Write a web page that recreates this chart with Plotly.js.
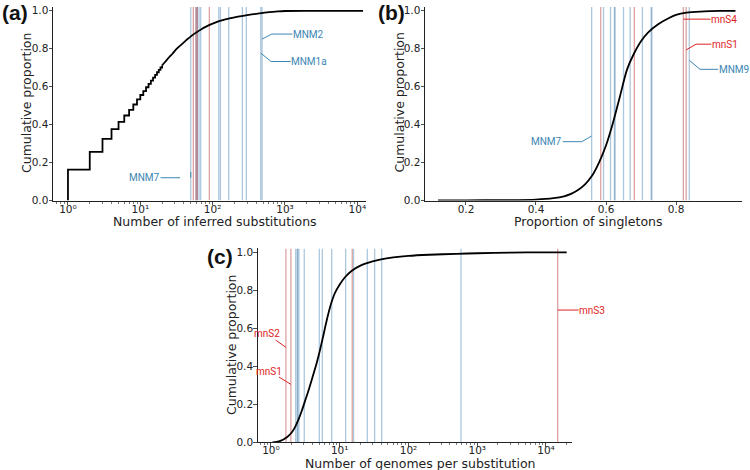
<!DOCTYPE html>
<html><head><meta charset="utf-8">
<script src="https://cdn.plot.ly/plotly-3.0.1.min.js"></script>
<style>body{margin:0;background:#fff}#chart{width:750px;height:470px}</style>
</head><body><div id="chart"></div>
<script>
// ---------- Panel (a): number of inferred substitutions ----------
const subsStepX = [1,1,2,3,4,5,6,7,8,9,10,11,12,13,14,15,16,17,18,19,20];
const subsStepY = [0,0.163,0.256,0.325,0.376,0.414,0.448,0.478,0.506,0.533,0.556,0.577,0.597,0.615,0.632,0.648,0.662,0.676,0.689,0.701,0.712];
const subsTailX = [20,22,25,28,32,36,40,45,50,55,60,70,80,100,120,150,200,250,300,400,500,600,800,1000,2000,12000];
const subsTailY = [0.712,0.73,0.755,0.775,0.80,0.818,0.834,0.851,0.865,0.877,0.887,0.903,0.915,0.932,0.944,0.955,0.965,0.972,0.977,0.984,0.989,0.993,0.997,0.999,1.0,1.0];
const subsBlue = [49.8,58.9,61.4,64.8,68.4,121.5,128,167,258,292,463,482];
const subsRed = [54.1,58.9,61.4,90];
const subsLabels = ['MNM7','MNM2','MNM1a'];
const subsLabelX = [49.8,482,463];
const subsLabelY = [0.150,0.851,0.777];

// ---------- Panel (b): proportion of singletons ----------
const singX = [0.12,0.2,0.3,0.4,0.45,0.48,0.5,0.52,0.54,0.56,0.58,0.6,0.62,0.64,0.66,0.68,0.7,0.72,0.75,0.78,0.8,0.83,0.87,0.9,0.95,0.97];
const singY = [0,0.001,0.002,0.005,0.012,0.022,0.035,0.055,0.085,0.13,0.2,0.29,0.41,0.55,0.69,0.775,0.84,0.885,0.93,0.962,0.978,0.99,0.996,0.998,1.0,1.0];
const singBlue = [0.559,0.593,0.613,0.624,0.626,0.650,0.669,0.704,0.729,0.731,0.838];
const singRed = [0.585,0.681,0.821,0.829];
const singLabels = ['MNM7','mnS4','mnS1','MNM9'];
const singLabelX = [0.559,0.821,0.829,0.838];
const singLabelY = [0.340,0.956,0.794,0.739];

// ---------- Panel (c): number of genomes per substitution ----------
const genX = [1.05,1.2,1.4,1.6,1.8,2.0,2.2,2.5,2.8,3.2,3.6,4.0,4.6,5.2,5.8,6.5,7.5,8.5,10,12,15,20,30,40,60,100,200,500,1000,3000,10000,20000];
const genY = [0,0.002,0.009,0.02,0.034,0.052,0.075,0.118,0.165,0.228,0.285,0.34,0.415,0.49,0.565,0.645,0.73,0.785,0.83,0.87,0.903,0.93,0.952,0.963,0.973,0.981,0.987,0.992,0.995,0.998,1.0,1.0];
const genBlue = [2.29,2.41,2.45,2.55,3.05,5.05,5.58,7.64,12.2,15.9,25.2,32.2,40.8,580];
const genRed = [1.65,1.95,15.2,14800];
const genLabels = ['mnS2','mnS1','mnS3'];
const genLabelX = [1.65,1.95,14800];
const genLabelY = [0.5,0.305,0.696];

// tick labels and titles
const logTickVals = [1,10,100,1000,10000];
const logTickText = ['10\u2070','10\u00b9','10\u00b2','10\u00b3','10\u2074'];
const yTickVals = [0,0.2,0.4,0.6,0.8,1.0];
const yTickText = ['0.0','0.2','0.4','0.6','0.8','1.0'];
const singTickVals = [0.2,0.4,0.6,0.8];
const singTickText = ['0.2','0.4','0.6','0.8'];
const xTitles = ['Number of inferred substitutions','Proportion of singletons','Number of genomes per substitution'];
const yTitle = 'Cumulative proportion';
const panelLetters = ['(a)','(b)','(c)'];

// ---------- styles ----------
const BLUE_LINE = 'rgba(70,130,180,0.45)';
const RED_LINE = 'rgba(185,70,70,0.5)';
const BLUE_TXT = '#3a86b4';
const RED_TXT = '#dd2222';
const YTOP = 1.02;

function vlines(vals, color, xa, ya) {
  const x = [], y = [];
  vals.forEach(v => { x.push(v, v, null); y.push(0, YTOP, null); });
  return {x, y, xaxis: xa, yaxis: ya, mode: 'lines', type: 'scatter', hoverinfo: 'skip',
          line: {color, width: 1.3}};
}
function curve(x, y, xa, ya, shape) {
  return {x, y, xaxis: xa, yaxis: ya, mode: 'lines', type: 'scatter',
          line: {color: '#000', width: 1.8, shape: shape || 'linear', smoothing: 0.8}};
}

const traces = [
  vlines(subsBlue, BLUE_LINE, 'x', 'y'),
  vlines(subsRed, RED_LINE, 'x', 'y'),
  curve(subsStepX, subsStepY, 'x', 'y', 'hv'),
  curve(subsTailX, subsTailY, 'x', 'y', 'spline'),
  vlines(singBlue, BLUE_LINE, 'x2', 'y2'),
  vlines(singRed, RED_LINE, 'x2', 'y2'),
  curve(singX, singY, 'x2', 'y2', 'spline'),
  vlines(genBlue, BLUE_LINE, 'x3', 'y3'),
  vlines(genRed, RED_LINE, 'x3', 'y3'),
  curve(genX, genY, 'x3', 'y3', 'spline')
];

function minorLog(lo, hi) {
  const out = [];
  for (let e = lo; e <= hi; e++) for (let m = 2; m <= 9; m++) out.push(m * Math.pow(10, e));
  return out;
}

const tickFont = {family: 'DejaVu Sans', size: 10.5, color: '#222'};
const titleFont = {family: 'DejaVu Sans', size: 12.5, color: '#222'};

function xLog(domain, range, anchor, minorVals) {
  return {domain, range, anchor, type: 'log', tickmode: 'array', tickvals: logTickVals, ticktext: logTickText,
    ticks: 'outside', ticklen: 3.5, tickwidth: 0.8, tickcolor: '#222', showline: true, linecolor: '#222', linewidth: 1,
    showgrid: false, zeroline: false, tickfont: tickFont, ticklabelstandoff: -5,
    minor: {tickmode: 'array', tickvals: minorVals, ticks: 'outside', ticklen: 2, tickwidth: 0.6, tickcolor: '#222', showgrid: false}};
}
function yLin(domain, anchor) {
  return {domain, range: [0, YTOP], anchor, tickmode: 'array', tickvals: yTickVals, ticktext: yTickText,
    ticks: 'outside', ticklen: 3.5, tickwidth: 0.8, tickcolor: '#222', showline: true, linecolor: '#222', linewidth: 1,
    showgrid: false, zeroline: false, tickfont: tickFont, ticklabelstandoff: -2};
}

const topDom = [0.5734, 0.9851];
const botDom = [0.0589, 0.4713];

const annotations = [];
const shapes = [];
function elbow(xref, yref, xv, yv, xvAnn, text, color, dx1, dy1, dx2) {
  shapes.push({type: 'line', xref, yref, xsizemode: 'pixel', ysizemode: 'pixel', xanchor: xv, yanchor: yv,
    x0: 0, y0: 0, x1: dx1, y1: -dy1, line: {color, width: 1}});
  annotations.push({xref, yref, x: xvAnn, y: yv, xshift: dx1, yshift: -dy1, text,
    font: {family: 'Roboto', size: 10, color}, showarrow: true, arrowhead: 0, arrowwidth: 1, arrowcolor: color,
    ax: dx2, ay: 0, standoff: 0, borderpad: 0});
}
function straight(xref, yref, xv, yv, text, color, ax, ay) {
  annotations.push({xref, yref, x: xv, y: yv, text, font: {family: 'Roboto', size: 10, color},
    showarrow: true, arrowhead: 0, arrowwidth: 1, arrowcolor: color, ax, ay, standoff: 0, borderpad: 0});
}
const L = Math.log10;
elbow('x', 'y', subsLabelX[0], subsLabelY[0], L(subsLabelX[0]), subsLabels[0], BLUE_TXT, -10.7, 5.7, -35.5);
elbow('x', 'y', subsLabelX[1], subsLabelY[1], L(subsLabelX[1]), subsLabels[1], BLUE_TXT, 9.7, -5, 36.6);
elbow('x', 'y', subsLabelX[2], subsLabelY[2], L(subsLabelX[2]), subsLabels[2], BLUE_TXT, 10.3, 8.4, 38.2);
elbow('x2', 'y2', singLabelX[0], singLabelY[0], singLabelX[0], singLabels[0], BLUE_TXT, -10, 5.7, -35);
straight('x2', 'y2', singLabelX[1], singLabelY[1], singLabels[1], RED_TXT, 40.7, 0);
elbow('x2', 'y2', singLabelX[2], singLabelY[2], singLabelX[2], singLabels[2], RED_TXT, 10, -5.7, 28.6);
elbow('x2', 'y2', singLabelX[3], singLabelY[3], singLabelX[3], singLabels[3], BLUE_TXT, 10.7, 9, 33.7);
straight('x3', 'y3', L(genLabelX[0]), genLabelY[0], genLabels[0], RED_TXT, -18.9, -13.3);
straight('x3', 'y3', L(genLabelX[1]), genLabelY[1], genLabels[1], RED_TXT, -21.7, -13.3);
straight('x3', 'y3', L(genLabelX[2]), genLabelY[2], genLabels[2], RED_TXT, 34.5, 0);

function paperText(text, px, py, font, angle) {
  annotations.push({xref: 'paper', yref: 'paper', x: px / 750, y: 1 - py / 470, text, showarrow: false,
    font, textangle: angle || 0, xanchor: 'center', yanchor: 'middle'});
}
paperText(xTitles[0], 214.7, 221.5, titleFont);
paperText(xTitles[1], 587.5, 221.5, titleFont);
paperText(xTitles[2], 420, 463.5, titleFont);
paperText(yTitle, 26, 103, titleFont, -90);
paperText(yTitle, 398.5, 103, titleFont, -90);
paperText(yTitle, 231, 345, titleFont, -90);

const letterFont = {family: 'Liberation Sans', size: 21, color: '#111'};
paperText('<b>' + panelLetters[0] + '</b>', 15, 12, letterFont);
paperText('<b>' + panelLetters[1] + '</b>', 392, 12, letterFont);
paperText('<b>' + panelLetters[2] + '</b>', 220, 256, letterFont);

const layout = {
  width: 750, height: 470, margin: {l: 0, r: 0, t: 0, b: 0},
  paper_bgcolor: '#fff', plot_bgcolor: '#fff', showlegend: false,
  font: {family: 'DejaVu Sans', size: 10.5, color: '#222'},
  xaxis: xLog([53 / 750, 366 / 750], [-0.207, 4.12], 'y', minorLog(-1, 3)),
  yaxis: yLin(topDom, 'x'),
  xaxis2: {domain: [425 / 750, 741.7 / 750], range: [0.0829, 0.9877], anchor: 'y2', tickmode: 'array',
    tickvals: singTickVals, ticktext: singTickText, ticks: 'outside', ticklen: 3.5, tickwidth: 0.8, tickcolor: '#222',
    showline: true, linecolor: '#222', linewidth: 1, showgrid: false, zeroline: false, tickfont: tickFont,
    ticklabelstandoff: -5},
  yaxis2: yLin(topDom, 'x2'),
  xaxis3: xLog([257.7 / 750, 571.7 / 750], [-0.193, 4.374], 'y3', minorLog(-1, 4)),
  yaxis3: yLin(botDom, 'x3'),
  annotations, shapes
};

Plotly.newPlot('chart', traces, layout, {staticPlot: true, displayModeBar: false});
</script>
</body></html>
